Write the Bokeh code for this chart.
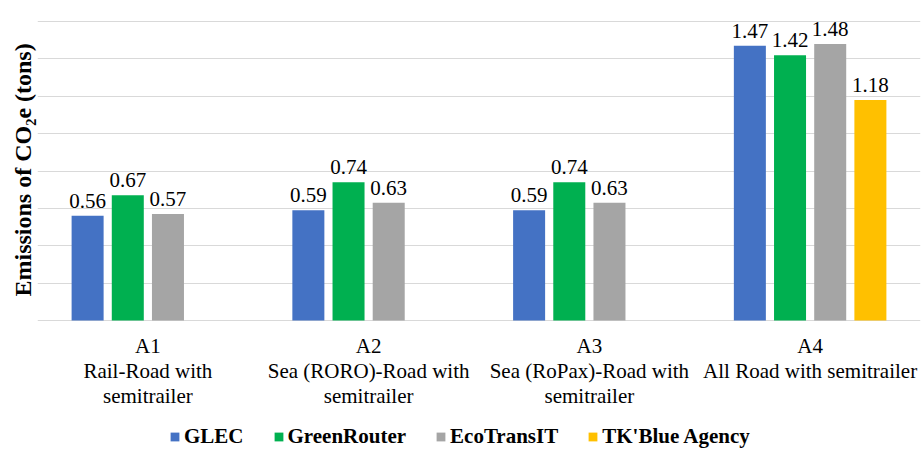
from bokeh.plotting import figure
from bokeh.models import ColumnDataSource, FixedTicker, Legend, LegendItem, Range1d, Title
from bokeh.transform import dodge
from bokeh.core.properties import value
from bokeh.embed import file_html
from bokeh.resources import INLINE

# ---- data ----
cat_codes = ["A1", "A2", "A3", "A4"]
cat_line2 = ["Rail-Road with", "Sea (RORO)-Road with", "Sea (RoPax)-Road with", "All Road with semitrailer"]
cat_line3 = ["semitrailer", "semitrailer", "semitrailer", ""]
series_names = ["GLEC", "GreenRouter", "EcoTransIT", "TK'Blue Agency"]
glec = [0.56, 0.59, 0.59, 1.47]
greenrouter = [0.67, 0.74, 0.74, 1.42]
ecotransit = [0.57, 0.63, 0.63, 1.48]
tkblue = [None, None, None, 1.18]
colors = ["#4472C4", "#00B050", "#A5A5A5", "#FFC000"]
y_ticks = [0, 0.2, 0.4, 0.6, 0.8, 1.0, 1.2, 1.4, 1.6]
y_label = "Emissions of CO\u2082e (tons)"

SERIF = "'Liberation Serif', 'Times New Roman', Tinos, 'DejaVu Serif', serif"

PX_PER_UNIT = 299 / 1.6
p = figure(x_range=cat_codes, y_range=Range1d(-129 / PX_PER_UNIT, 320 / PX_PER_UNIT),
           frame_width=883, frame_height=449,
           x_axis_location=None, y_axis_location=None,
           min_border_left=37, min_border_right=2, min_border_top=0, min_border_bottom=0,
           output_backend="svg", toolbar_location=None)
p.outline_line_color = None
p.background_fill_color = "white"

offsets = [-0.273, -0.091, 0.091, 0.273]
all_series = [glec, greenrouter, ecotransit, tkblue]
renderers = []
for vals, off, col in zip(all_series, offsets, colors):
    xs = [c for c, v in zip(cat_codes, vals) if v is not None]
    ys = [v for v in vals if v is not None]
    src = ColumnDataSource(dict(x=xs, top=ys, label=["%.2f" % v for v in ys]))
    r = p.vbar(x=dodge("x", off, range=p.x_range), top="top", width=0.145,
               source=src, fill_color=col, line_color=None)
    renderers.append(r)
    p.text(x=dodge("x", off, range=p.x_range), y="top", text="label", source=src,
           text_align="center", text_baseline="alphabetic", y_offset=-15,
           text_font=value(SERIF), text_font_size="21px", text_color="black")

# category labels (below the zero line)
cat_src = ColumnDataSource(dict(x=cat_codes, y=[0] * 4, l1=cat_codes, l2=cat_line2, l3=cat_line3))
for col_name, off in (("l1", 25), ("l2", 50), ("l3", 75)):
    p.text(x="x", y="y", text=col_name, source=cat_src, text_align="center",
           text_baseline="middle", y_offset=off,
           text_font=value(SERIF), text_font_size="21px", text_color="black")

# grid
p.xgrid.grid_line_color = None
p.ygrid.ticker = FixedTicker(ticks=y_ticks)
p.ygrid.grid_line_color = "#D9D9D9"
p.ygrid.grid_line_width = 1

# y label as a left title
p.add_layout(Title(text=y_label, align="left", offset=153, standoff=3,
                   text_font=SERIF, text_font_style="bold", text_font_size="24px",
                   text_color="black"), "left")

legend = Legend(items=[LegendItem(label=n, renderers=[r]) for n, r in zip(series_names, renderers)],
                location=(132, 0), orientation="horizontal",
                glyph_width=11, glyph_height=11, label_standoff=4, spacing=29,
                padding=0, margin=0, border_line_color=None, background_fill_alpha=0,
                label_text_font=SERIF, label_text_font_style="bold",
                label_text_font_size="21px", label_text_color="black", label_height=21)
p.add_layout(legend, "center")

open("out.html", "w").write(file_html(p, INLINE))
